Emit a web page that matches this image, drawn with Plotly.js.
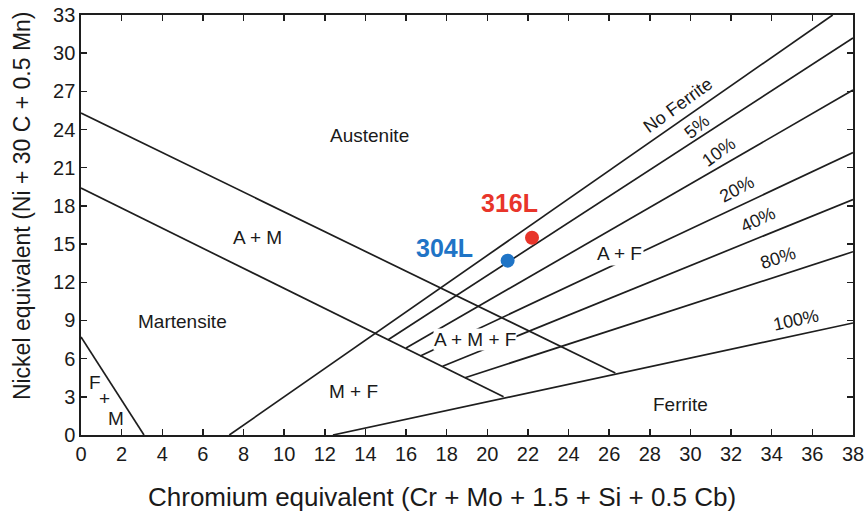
<!DOCTYPE html>
<html>
<head>
<meta charset="utf-8">
<script src="https://cdn.plot.ly/plotly-3.0.1.min.js"></script>
<style>html,body{margin:0;padding:0;background:#fff;}#chart{width:868px;height:515px;}</style>
</head>
<body>
<div id="chart"></div>
<script>
// Phase boundary lines (Cr equivalent, Ni equivalent)
const austeniteX = [0, 26.3];
const austeniteY = [25.3, 4.87];
const martensiteX = [0, 20.8];
const martensiteY = [19.4, 3.0];
const fmX = [0, 3.1];
const fmY = [7.7, 0];
const noFerriteX = [7.3, 37.0];
const noFerriteY = [0, 33];
const f5X = [15.1, 38];
const f5Y = [7.46, 31.2];
const f10X = [16.0, 38];
const f10Y = [6.83, 27.1];
const f20X = [16.7, 38];
const f20Y = [6.2, 22.2];
const f40X = [17.8, 38];
const f40Y = [5.4, 18.5];
const f80X = [18.9, 38];
const f80Y = [4.5, 14.4];
const f100X = [12.4, 38];
const f100Y = [0, 8.8];

// Steel grades
const steelNames = ['304L', '316L'];
const steelCr = [21.0, 22.2];
const steelNi = [13.7, 15.5];

// Tick values
const xTicks = [0,2,4,6,8,10,12,14,16,18,20,22,24,26,28,30,32,34,36,38];
const yTicks = [0,3,6,9,12,15,18,21,24,27,30,33];

const xTitle = 'Chromium equivalent (Cr + Mo + 1.5 + Si + 0.5 Cb)';
const yTitle = 'Nickel equivalent (Ni + 30 C + 0.5 Mn)';

const lineStyle = {color: '#1e1e1e', width: 1.7};
const segs = [
  [austeniteX, austeniteY], [martensiteX, martensiteY], [fmX, fmY],
  [noFerriteX, noFerriteY], [f5X, f5Y], [f10X, f10Y], [f20X, f20Y],
  [f40X, f40Y], [f80X, f80Y], [f100X, f100Y]
];
const traces = segs.map(s => ({
  x: s[0], y: s[1], mode: 'lines', type: 'scatter', line: lineStyle,
  hoverinfo: 'skip', showlegend: false
}));
const steelColors = ['#1f74c6', '#e8352a'];
traces.push({
  x: steelCr, y: steelNi, mode: 'markers', type: 'scatter',
  marker: {size: 14, color: steelColors}, showlegend: false
});

const FONT = 'Liberation Sans, Arial, Helvetica, sans-serif';
const TXT = '#1a1a1a';
function lab(text, x, y, opts) {
  return Object.assign({
    text: text, x: x, y: y, xref: 'x', yref: 'y', showarrow: false,
    font: {family: FONT, size: 19, color: TXT}
  }, opts || {});
}
function pct(size) { return {family: FONT, size: size, color: TXT}; }
const annotations = [
  lab('Austenite', 14.2, 23.5),
  lab('A + M', 8.7, 15.5),
  lab('Martensite', 5.0, 8.9),
  lab('F', 0.7, 4.1),
  lab('+', 1.15, 2.9),
  lab('M', 1.7, 1.3),
  lab('M + F', 13.4, 3.4),
  lab('A + M + F', 19.4, 7.5, {bgcolor: '#fff', borderpad: 0}),
  lab('A + F', 26.5, 14.3, {bgcolor: '#fff', borderpad: 1}),
  lab('Ferrite', 29.5, 2.4),
  lab('No Ferrite', 29.4, 25.9, {textangle: -36, font: pct(18)}),
  lab('5%', 30.3, 24.2, {textangle: -40, font: pct(18)}),
  lab('10%', 31.4, 22.2, {textangle: -36, font: pct(18)}),
  lab('20%', 32.3, 19.3, {textangle: -28, font: pct(18)}),
  lab('40%', 33.3, 16.9, {textangle: -25, font: pct(18)}),
  lab('80%', 34.3, 13.9, {textangle: -18, font: pct(18)}),
  lab('100%', 35.2, 9.0, {textangle: -12, font: pct(18)}),
  lab(steelNames[0], 17.9, 14.7, {font: {family: FONT, size: 25, color: steelColors[0], weight: 'bold'}}),
  lab(steelNames[1], 21.1, 18.2, {font: {family: FONT, size: 25, color: steelColors[1], weight: 'bold'}}),
  {text: xTitle, xref: 'paper', yref: 'paper', x: 0.468, y: -0.148, xanchor: 'center', yanchor: 'middle',
   showarrow: false, font: {family: FONT, size: 26, color: TXT}},
  {text: yTitle, xref: 'paper', yref: 'paper', x: -0.0764, y: 0.545, xanchor: 'center', yanchor: 'middle',
   textangle: -90, showarrow: false, font: {family: FONT, size: 23, color: TXT}}
];

const axisCommon = {
  showgrid: false, zeroline: false, showline: true, linecolor: '#1e1e1e', linewidth: 1.7,
  mirror: 'ticks', ticks: 'inside', ticklen: 6, tickwidth: 1.5, tickcolor: '#1e1e1e',
  tickfont: {family: FONT, size: 20, color: TXT}, tickmode: 'array'
};
const layout = {
  width: 868, height: 515,
  margin: {l: 81, r: 15, t: 15, b: 80},
  paper_bgcolor: '#fff', plot_bgcolor: '#fff',
  xaxis: Object.assign({}, axisCommon, {
    range: [0, 38], tickvals: xTicks, ticktext: xTicks.map(String)
  }),
  yaxis: Object.assign({}, axisCommon, {
    range: [0, 33], tickvals: yTicks, ticktext: yTicks.map(String)
  }),
  annotations: annotations,
  showlegend: false
};
Plotly.newPlot('chart', traces, layout, {displayModeBar: false, staticPlot: true});
</script>
</body>
</html>
